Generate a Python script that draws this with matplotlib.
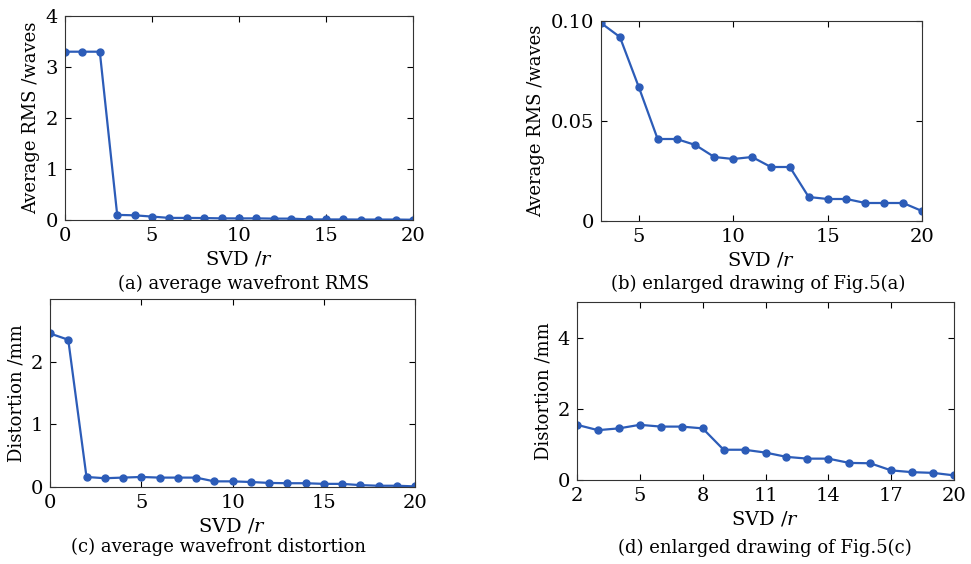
import matplotlib
matplotlib.use("Agg")
import matplotlib.pyplot as plt

plt.rcParams["font.family"] = "DejaVu Serif"
plt.rcParams["mathtext.fontset"] = "dejavuserif"

# (a) average wavefront RMS
svd_a = list(range(0, 21))
rms_a = [3.3, 3.3, 3.3, 0.10, 0.092, 0.067, 0.041, 0.041, 0.038, 0.032, 0.031,
         0.032, 0.027, 0.027, 0.012, 0.011, 0.011, 0.009, 0.009, 0.009, 0.005]

# (b) enlarged drawing of (a)
svd_b = list(range(3, 21))
rms_b = [0.099, 0.092, 0.067, 0.041, 0.041, 0.038, 0.032, 0.031, 0.032,
         0.027, 0.027, 0.012, 0.011, 0.011, 0.009, 0.009, 0.009, 0.005]

# (c) average wavefront distortion
svd_c = list(range(0, 21))
dist_c = [2.45, 2.35, 0.16, 0.14, 0.15, 0.16, 0.15, 0.15, 0.15, 0.09, 0.09,
          0.08, 0.065, 0.06, 0.06, 0.05, 0.05, 0.03, 0.02, 0.02, 0.01]

# (d) enlarged drawing of (c)
svd_d = list(range(2, 21))
dist_d = [1.55, 1.4, 1.45, 1.55, 1.5, 1.5, 1.45, 0.85, 0.85, 0.77, 0.65,
          0.6, 0.6, 0.48, 0.47, 0.27, 0.22, 0.2, 0.13]

W, H = 971, 564
color = "#2c5cb8"
fs_tick = 14
fs_xlab = 14
fs_ylab = 13
fs_cap = 13


def axes_px(fig, left, top, right, bottom):
    return fig.add_axes([left / W, 1 - bottom / H, (right - left) / W, (bottom - top) / H])


def panel(ax, x, y, xlim, ylim, xticks, yticks, yticklabels, ylabel, caption, cap_xy):
    ax.plot(x, y, color=color, lw=1.6, marker="o", ms=5)
    ax.set_xlim(*xlim)
    ax.set_ylim(*ylim)
    ax.set_xticks(xticks)
    ax.set_yticks(yticks)
    ax.set_yticklabels(yticklabels)
    ax.set_ylabel(ylabel, fontsize=fs_ylab, labelpad=4)
    ax.set_xlabel("SVD /$r$", fontsize=fs_xlab, labelpad=3)
    ax.tick_params(direction="in", top=True, right=True, labelsize=fs_tick, length=4, pad=5)
    for s in ax.spines.values():
        s.set_linewidth(0.8)
        s.set_color("#333333")
    fig.text(cap_xy[0] / W, 1 - cap_xy[1] / H, caption, ha="center", va="center", fontsize=fs_cap)


fig = plt.figure(figsize=(W / 100, H / 100), dpi=100)

ax_a = axes_px(fig, 65, 16, 413, 220)
panel(ax_a, svd_a, rms_a, (0, 20), (0, 4), [0, 5, 10, 15, 20], [0, 1, 2, 3, 4],
      ["0", "1", "2", "3", "4"], "Average RMS /waves", "(a) average wavefront RMS", (244, 284))

ax_b = axes_px(fig, 601, 21, 922, 221)
panel(ax_b, svd_b, rms_b, (3, 20), (0, 0.1), [5, 10, 15, 20], [0, 0.05, 0.1],
      ["0", "0.05", "0.10"], "Average RMS /waves", "(b) enlarged drawing of Fig.5(a)", (758, 284))

ax_c = axes_px(fig, 50, 299, 415, 487)
panel(ax_c, svd_c, dist_c, (0, 20), (0, 3), [0, 5, 10, 15, 20], [0, 1, 2],
      ["0", "1", "2"], "Distortion /mm", "(c) average wavefront distortion", (218, 547))

ax_d = axes_px(fig, 577, 302, 954, 480)
panel(ax_d, svd_d, dist_d, (2, 20), (0, 5), [2, 5, 8, 11, 14, 17, 20], [0, 2, 4],
      ["0", "2", "4"], "Distortion /mm", "(d) enlarged drawing of Fig.5(c)", (765, 548))

fig.savefig("out.png", dpi=100)
